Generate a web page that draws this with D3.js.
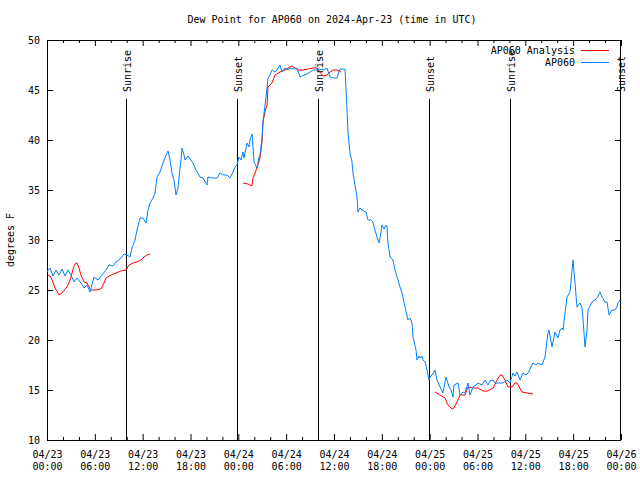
<!DOCTYPE html>
<html>
<head>
<meta charset="utf-8">
<script src="https://cdn.jsdelivr.net/npm/d3@7"></script>
<style>
  html, body { margin: 0; padding: 0; background: #fff; }
  svg text { font-family: "DejaVu Sans Mono", "Liberation Mono", monospace; font-size: 10px; fill: #000; }
</style>
</head>
<body>
<svg id="chart" width="640" height="480"></svg>
<script>
// ---- Data (hours since 2024-04-23 00:00 UTC) ----
const titleText = "Dew Point for AP060 on 2024-Apr-23 (time in UTC)";
const yLabel = "degrees F";
const seriesNames = ["AP060 Analysis", "AP060"];

const obsHours = [0,0.38,0.75,1.13,1.51,1.88,2.26,2.63,3.01,3.39,3.76,4.26,4.64,5.02,5.39,5.9,6.4,6.9,7.4,7.78,8.28,8.66,9.16,9.66,10.04,10.41,10.66,11.04,11.29,11.67,12.04,12.42,12.67,12.92,13.3,13.55,13.8,14.17,14.55,14.93,15.18,15.43,15.68,15.93,16.18,16.43,16.56,16.81,16.93,17.19,17.31,17.69,18.06,18.31,18.69,19.19,19.57,20.07,20.2,20.7,21.32,21.7,22.2,22.58,22.95,23.33,23.58,23.83,24.08,24.33,24.59,24.71,25.09,25.34,25.46,25.72,25.97,26.34,26.59,26.72,26.97,27.09,27.35,27.6,27.72,27.97,28.22,28.6,28.85,29.23,29.48,29.85,30.23,30.48,30.98,31.36,31.74,32.24,32.61,32.99,33.37,33.87,34.24,34.75,35.12,35.5,36.0,36.38,36.75,37.13,37.38,37.63,37.76,38.01,38.26,38.38,38.63,38.89,39.01,39.26,39.51,40.01,40.26,40.64,40.89,41.14,41.39,41.65,41.9,42.02,42.27,42.52,42.65,42.77,43.03,43.4,43.65,44.03,44.28,44.53,44.91,45.28,45.53,45.79,45.91,46.29,46.41,46.66,46.79,47.04,47.16,47.42,47.67,47.92,48.04,48.29,48.67,48.92,49.3,49.67,50.05,50.43,50.68,50.93,51.05,51.56,51.81,52.18,52.43,52.81,53.06,53.44,53.81,54.06,54.57,54.94,55.32,55.57,55.95,56.2,56.57,57.2,57.7,58.08,58.45,58.7,58.96,59.33,59.71,60.08,60.34,60.71,60.96,61.34,61.59,62.09,62.47,62.72,62.84,62.97,63.35,63.72,64.1,64.35,64.6,64.73,64.98,65.23,65.61,65.86,65.98,66.23,66.48,66.86,67.11,67.24,67.49,67.74,67.86,68.36,68.74,68.99,69.37,69.62,69.99,70.25,70.5,70.87,71.25,71.5,71.62,71.87];
const obsValues = [26.8,27.2,26.4,27.0,26.5,27.1,26.4,27.0,26.5,25.8,26.2,25.7,25.2,25.5,24.8,26.3,26.0,26.5,27.0,27.5,27.4,27.8,28.1,28.6,28.5,28.3,29.2,30.0,31.0,32.2,32.2,31.7,33.0,33.7,34.2,34.7,36.3,36.8,37.7,38.5,38.9,38.0,36.7,36.0,34.5,35.2,36.3,38.0,39.2,38.5,38.0,38.4,38.0,37.7,37.0,36.3,36.2,35.5,36.3,36.2,36.2,36.7,36.5,36.5,36.2,36.8,37.3,37.5,38.3,38.0,38.8,38.2,39.7,39.3,40.0,40.6,37.8,37.2,38.3,38.5,40.2,41.8,43.5,45.2,46.2,46.5,47.0,46.8,47.0,47.5,46.8,47.2,47.0,47.2,47.1,47.2,46.3,46.5,46.6,46.8,47.0,47.0,47.1,47.0,47.2,46.3,46.2,46.2,47.1,47.1,47.1,43.0,40.7,38.7,37.8,36.7,35.5,34.3,32.8,33.2,33.0,32.8,32.0,32.0,31.8,31.0,30.3,29.7,30.8,31.5,31.1,31.5,31.3,29.7,28.3,28.0,27.0,26.0,25.3,24.7,23.3,22.0,22.2,21.7,20.3,19.0,18.0,18.4,18.2,18.4,18.0,17.8,17.0,16.0,16.3,16.5,17.0,16.0,15.3,14.7,16.3,15.3,15.0,14.3,15.5,15.7,14.5,14.8,14.7,15.7,14.5,15.3,15.5,15.7,15.5,16.0,15.5,15.9,16.0,15.7,15.7,15.7,16.0,15.7,16.7,16.4,16.8,16.0,16.7,16.5,16.7,17.3,17.7,17.5,17.7,17.5,18.3,20.0,20.7,21.0,19.3,20.8,20.2,21.0,21.2,21.0,22.7,24.3,24.8,27.0,28.0,25.7,23.3,23.7,23.3,22.0,19.3,21.0,23.0,23.8,24.0,24.2,24.8,24.3,23.8,23.8,22.5,23.0,23.0,23.3,23.7,24.0];

// Analysis: null marks a gap between runs
const anaHours = [0.1,0.5,1.0,1.5,1.88,2.26,2.51,2.89,3.14,3.39,3.64,3.76,4.01,4.26,4.64,5.02,5.27,5.52,6.15,6.77,7.15,7.4,8.03,8.66,9.28,9.91,10.29,10.79,11.29,11.79,12.17,12.54,12.92,
  null,
  24.59,25.21,25.72,25.84,26.34,26.72,26.97,27.09,27.35,27.6,27.72,28.22,28.6,29.23,29.85,30.23,30.73,31.11,31.49,32.11,32.74,33.37,33.87,34.24,34.62,35.12,35.5,35.88,36.38,36.88,
  null,
  48.67,49.3,49.92,50.3,50.8,51.05,51.43,51.81,52.43,52.81,53.44,54.06,54.69,55.32,55.95,56.45,56.83,57.08,57.45,57.83,58.33,58.7,58.96,59.58,60.21,60.96];
const anaValues = [26.5,26.3,25.2,24.5,24.7,25.1,25.3,26.0,26.7,27.4,27.7,27.7,27.2,26.5,25.8,25.7,25.3,25.0,25.0,25.1,25.7,26.2,26.5,26.7,26.9,27.0,27.5,27.7,27.8,28.0,28.3,28.5,28.6,
  null,
  35.7,35.6,35.4,36.2,37.2,38.2,39.8,41.8,42.8,43.5,45.3,45.7,46.5,46.8,47.0,47.2,47.4,47.2,47.0,47.0,47.1,47.2,47.2,46.8,46.4,46.5,46.8,47.0,47.0,46.8,
  null,
  14.8,14.5,14.2,13.5,13.1,13.2,13.8,14.5,14.5,15.3,15.2,15.2,14.9,14.9,15.2,16.0,16.5,16.5,16.0,15.3,15.3,15.7,15.7,14.8,14.7,14.6];

const sunHours = [9.91, 23.83, 33.99, 47.92, 58.08, 71.88];
const sunLabels = ["Sunrise", "Sunset", "Sunrise", "Sunset", "Sunrise", "Sunset"];

const xTickHours = [0, 6, 12, 18, 24, 30, 36, 42, 48, 54, 60, 66, 72];
const xTickLabels = ["04/23|00:00","04/23|06:00","04/23|12:00","04/23|18:00","04/24|00:00","04/24|06:00","04/24|12:00","04/24|18:00","04/25|00:00","04/25|06:00","04/25|12:00","04/25|18:00","04/26|00:00"];
const xMinorHours = d3.range(0, 73, 2).filter(h => h % 6 !== 0);
const yTicks = [10, 15, 20, 25, 30, 35, 40, 45, 50];

// ---- Chart ----
const W = 640, H = 480;
const m = { left: 47, right: 19, top: 40, bottom: 40 };
const svg = d3.select("#chart");
const x = d3.scaleLinear().domain([0, 72]).range([m.left, W - m.right]);
const y = d3.scaleLinear().domain([10, 50]).range([H - m.bottom, m.top]);
const colorAna = "#ff0000", colorObs = "#0080ff";

// title
svg.append("text").attr("x", 332).attr("y", 23).attr("text-anchor", "middle").text(titleText);

// y label
svg.append("text").attr("transform", "translate(14,240) rotate(-90)")
  .attr("text-anchor", "middle").text(yLabel);

// axes (ticks inward, mirrored)
const gB = svg.append("g").attr("transform", `translate(0,${y(10)})`)
  .call(d3.axisBottom(x).tickValues(xTickHours).tickSize(-6).tickPadding(0)
    .tickFormat((d, i) => xTickLabels[i]));
gB.selectAll(".tick text").each(function(d, i) {
  const parts = xTickLabels[i].split("|");
  const t = d3.select(this).text(null).attr("dy", null).attr("y", null);
  parts.forEach((p, k) => t.append("tspan").attr("x", 0).attr("y", 18 + k * 12).text(p));
});
svg.append("g").attr("transform", `translate(0,${y(10)})`)
  .call(d3.axisBottom(x).tickValues(xMinorHours).tickSize(-3).tickFormat(""));
svg.append("g").attr("transform", `translate(0,${y(50)})`)
  .call(d3.axisTop(x).tickValues(xTickHours).tickSize(-6).tickFormat(""));
svg.append("g").attr("transform", `translate(0,${y(50)})`)
  .call(d3.axisTop(x).tickValues(xMinorHours).tickSize(-3).tickFormat(""));
svg.append("g").attr("transform", `translate(${x(0)},0)`)
  .call(d3.axisLeft(y).tickValues(yTicks).tickSize(-6).tickPadding(7).tickFormat(d3.format("d")));
svg.append("g").attr("transform", `translate(${x(72)},0)`)
  .call(d3.axisRight(y).tickValues(yTicks).tickSize(-6).tickFormat(""));
svg.selectAll(".domain").remove();
svg.selectAll(".tick line").attr("stroke", "#000");
svg.selectAll(".tick text").attr("font-family", null).attr("font-size", null).attr("fill", "#000");

// frame
svg.append("rect").attr("x", x(0) + 0.5).attr("y", y(50) + 0.5)
  .attr("width", x(72) - x(0) - 1).attr("height", y(10) - y(50))
  .attr("fill", "none").attr("stroke", "#000");

// sun lines
sunHours.forEach((h, i) => {
  const lx = Math.round(x(h)) + 0.5;
  svg.append("line").attr("x1", lx).attr("x2", lx).attr("y1", 99).attr("y2", y(10))
    .attr("stroke", "#000");
  svg.append("text").attr("transform", `translate(${lx + 4},92) rotate(-90)`)
    .attr("text-anchor", "start").text(sunLabels[i]);
});

// series
const line = d3.line().defined(d => d[1] !== null).x(d => x(d[0])).y(d => y(d[1]));
const anaData = anaHours.map((h, i) => [h, anaValues[i]]);
const obsData = obsHours.map((h, i) => [h, obsValues[i]]);
svg.append("path").datum(anaData).attr("d", line).attr("fill", "none")
  .attr("stroke", colorAna).attr("stroke-width", 1);
svg.append("path").datum(obsData).attr("d", line).attr("fill", "none")
  .attr("stroke", colorObs).attr("stroke-width", 1);

// legend
const legY = [50, 62];
const legColors = [colorAna, colorObs];
seriesNames.forEach((n, i) => {
  svg.append("text").attr("x", 575).attr("y", legY[i] + 4).attr("text-anchor", "end").text(n);
  svg.append("line").attr("x1", 581).attr("x2", 609).attr("y1", legY[i] + 0.5).attr("y2", legY[i] + 0.5)
    .attr("stroke", legColors[i]).attr("stroke-width", 1);
});
</script>
</body>
</html>
